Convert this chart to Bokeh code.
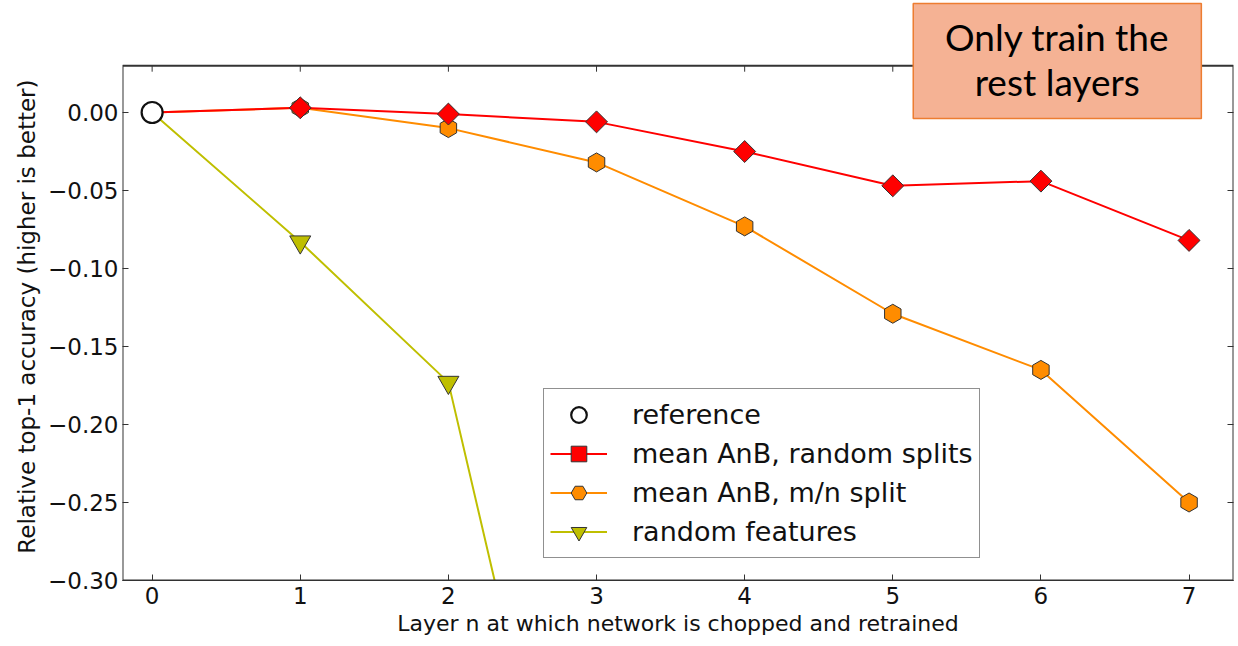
import math
from bokeh.plotting import figure
from bokeh.models import (Range1d, FixedTicker, LinearAxis, CustomJSTickFormatter,
                          Legend, LegendItem, Label, BoxAnnotation)
from bokeh.embed import file_html
from bokeh.resources import INLINE

# values
layers = [0, 1, 2, 3, 4, 5, 6, 7]
random_splits = [0.0, 0.003, -0.001, -0.006, -0.025, -0.047, -0.044, -0.082]
mn_split = [0.0, 0.003, -0.010, -0.032, -0.073, -0.129, -0.165, -0.250]
rf_layers = [0, 1, 2, 3]
random_features = [0.0, -0.083, -0.173, -0.58]
ref_x = [0]
ref_y = [0.0]

x_ticks = [0, 1, 2, 3, 4, 5, 6, 7]
y_ticks = [0.0, -0.05, -0.10, -0.15, -0.20, -0.25, -0.30]
note_lines = ["Only train the", "rest layers"]

# axes box of the chart; the frame itself goes up to the top of the canvas so the
# callout box in the corner can stick out above the axes
x0, x1 = -0.2, 7.3
y0, y1 = -0.30, 0.03
px_per_y = 1560.0

W, H = 1238, 646
p = figure(width=W, height=H, output_backend="svg", toolbar_location=None,
           x_range=Range1d(x0, x1), y_range=Range1d(y0, y0 + 579 / px_per_y),
           min_border_left=122, min_border_right=5, min_border_top=1, min_border_bottom=66)
p.xgrid.grid_line_color = None
p.ygrid.grid_line_color = None
p.outline_line_color = None

tick_font = "DejaVu Sans"
p.xaxis.ticker = FixedTicker(ticks=x_ticks)
p.yaxis.ticker = FixedTicker(ticks=y_ticks)
p.yaxis.formatter = CustomJSTickFormatter(code="return tick.toFixed(2).replace('-', '\u2212')")
for ax in [p.xaxis[0], p.yaxis[0]]:
    ax.major_tick_in = 6
    ax.major_tick_out = 0
    ax.minor_tick_line_color = None
    ax.axis_line_color = "#333333"
    ax.major_tick_line_color = "#333333"
    ax.major_label_text_font = tick_font
    ax.major_label_text_font_size = "23px"
    ax.major_label_text_color = "#111111"
    ax.axis_label_text_font = tick_font
    ax.axis_label_text_font_size = "22px"
    ax.axis_label_text_font_style = "normal"
    ax.axis_label_text_color = "#111111"
p.yaxis.axis_line_color = None
p.yaxis.axis_label_text_font_size = "23px"
p.xaxis.axis_label = "Layer n at which network is chopped and retrained"
# trailing no-break spaces push the label down to the middle of the visible axes
p.yaxis.axis_label = "Relative top-1 accuracy (higher is better)" + "\u00a0" * 7
p.xaxis.major_label_standoff = 6
p.xaxis.axis_label_standoff = 4
p.yaxis.major_label_standoff = 4
p.yaxis.axis_label_standoff = 5

# ticks on the right too, no labels
blank = CustomJSTickFormatter(code="return ''")
right = LinearAxis(ticker=FixedTicker(ticks=y_ticks), formatter=blank)
right.major_tick_in = 6
right.major_tick_out = 0
right.minor_tick_line_color = None
right.axis_line_color = None
right.major_tick_line_color = "#333333"
right.major_label_text_font_size = "1px"
right.major_label_standoff = 0
p.add_layout(right, "right")

# axes outline and top ticks
p.add_layout(BoxAnnotation(left=x0, right=x1, top=y1, bottom=y0, fill_alpha=0,
                           line_color="#333333", line_width=2, line_alpha=1))
p.segment(x_ticks, [y1] * len(x_ticks), x_ticks, [y1 - 6 / px_per_y] * len(x_ticks),
          line_color="#333333", line_width=1)

# series
g_line = p.line(rf_layers, random_features, line_color="#BFBF00", line_width=2)
g_pts = p.scatter(rf_layers[1:], random_features[1:], marker="inverted_triangle", size=21,
                  fill_color="#BFBF00", line_color="#333333", line_width=1)
o_line = p.line(layers, mn_split, line_color="#FF8C00", line_width=2)
o_pts = p.scatter(layers[1:], mn_split[1:], marker="hex", size=19, angle=math.pi / 2,
                  fill_color="#FF8C00", line_color="#333333", line_width=1)
r_line = p.line(layers, random_splits, line_color="#FF0000", line_width=2)
r_pts = p.scatter(layers[1:], random_splits[1:], marker="square", size=15.5, angle=math.pi / 4,
                  fill_color="#FF0000", line_color="#333333", line_width=1)
ref = p.scatter(ref_x, ref_y, marker="circle", size=21, fill_color="white",
                line_color="#111111", line_width=2.2)

legend = Legend(items=[
    LegendItem(label="reference", renderers=[ref]),
    LegendItem(label="mean AnB, random splits", renderers=[r_line, r_pts]),
    LegendItem(label="mean AnB, m/n split", renderers=[o_line, o_pts]),
    LegendItem(label="random features", renderers=[g_line, g_pts]),
], location=(421, 22))
legend.glyph_width = 57
legend.glyph_height = 39
legend.label_height = 39
legend.spacing = 0
legend.padding = 6
legend.margin = 0
legend.label_standoff = 25
legend.label_text_font = tick_font
legend.label_text_font_size = "27px"
legend.label_text_color = "#111111"
legend.border_line_color = "#222222"
legend.border_line_width = 1.2
legend.background_fill_color = "white"
legend.background_fill_alpha = 1
p.add_layout(legend)

# callout box in the top right corner
p.add_layout(BoxAnnotation(left=5.138, right=7.083, top=0.0699, bottom=-0.0038,
                           fill_color="#F5B294", fill_alpha=1,
                           line_color="#ED7D31", line_width=1.5, line_alpha=1))
for txt, yb in zip(note_lines, [0.0487, 0.0199]):
    p.add_layout(Label(x=6.11, y=yb, text=txt, text_align="center", text_baseline="alphabetic",
                       text_font="Lato", text_font_size="37px", text_color="black"))

open("out.html", "w").write(file_html(p, INLINE))
